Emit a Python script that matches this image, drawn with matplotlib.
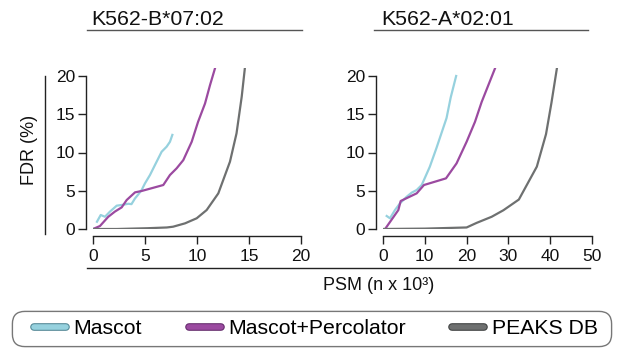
import matplotlib
matplotlib.use("Agg")
import matplotlib.pyplot as plt
from matplotlib.lines import Line2D
from matplotlib.patches import FancyBboxPatch
import matplotlib.patheffects as pe

plt.rcParams['font.family'] = ['Liberation Sans', 'DejaVu Sans']

# ---- data (x in PSM x10^3, y in FDR %) ----
titles = ["K562-B*07:02", "K562-A*02:01"]
series_names = ["Mascot", "Mascot+Percolator", "PEAKS DB"]

b07_mascot_x = [0.38, 0.74, 1.15, 1.63, 2.28, 2.76, 3.4, 3.7, 4.04, 4.36, 4.68, 5.0, 5.48, 5.96, 6.6, 7.08, 7.4, 7.63]
b07_mascot_y = [0.95, 1.83, 1.6, 2.27, 3.05, 3.14, 3.3, 3.25, 4.0, 4.53, 5.1, 5.97, 7.06, 8.37, 10.1, 10.76, 11.4, 12.3]
b07_perc_x = [0, 0.67, 1.47, 2.1, 2.76, 3.24, 4.04, 4.68, 6.76, 7.4, 8.04, 8.68, 9.49, 10.1, 10.77, 11.25, 11.73]
b07_perc_y = [0, 0.39, 1.6, 2.27, 2.83, 3.79, 4.79, 4.97, 5.75, 7.06, 7.93, 9.0, 11.4, 14.0, 16.4, 18.8, 21.0]
b07_peaks_x = [0, 2.3, 5.2, 7.1, 7.7, 8.85, 9.97, 10.93, 12.05, 13.17, 13.8, 14.3, 14.6]
b07_peaks_y = [0, 0.0, 0.1, 0.2, 0.3, 0.74, 1.4, 2.48, 4.66, 8.8, 12.5, 17.3, 21.0]

a02_mascot_x = [0.88, 1.67, 2.87, 4.07, 5.67, 6.86, 8.06, 9.26, 11.2, 12.8, 15.2, 16.2, 17.5]
a02_mascot_y = [1.7, 1.4, 2.48, 3.36, 4.22, 4.75, 5.1, 5.75, 8.14, 10.6, 14.5, 17.2, 20.0]
a02_perc_x = [0.5, 3.67, 4.23, 8.06, 9.8, 15.07, 17.6, 20.0, 22.0, 23.6, 25.2, 26.8]
a02_perc_y = [0, 2.48, 3.66, 4.66, 5.75, 6.62, 8.58, 11.4, 14.0, 16.6, 18.8, 21.0]
a02_peaks_x = [0, 10, 20.0, 22.4, 26.0, 28.8, 32.5, 36.8, 39.0, 40.3, 41.6]
a02_peaks_y = [0, 0.05, 0.2, 0.8, 1.6, 2.45, 3.85, 8.15, 12.4, 16.5, 21.0]

y_ticks = [0, 5, 10, 15, 20]
b07_x_ticks = [0, 5, 10, 15, 20]
a02_x_ticks = [0, 10, 20, 30, 40, 50]

colors = ["#96d1de", "#9b4aa0", "#6e7070"]
edge_colors = ["#4f8593", "#62286a", "#3c3e3e"]

W, H = 622, 352
fig = plt.figure(figsize=(W / 100, H / 100), dpi=100)

def fx(px):
    return px / W

def fy(py):
    return 1 - py / H

ymax = 21.0
y0_px, y20_px = 229, 76
ppu = (y0_px - y20_px) / 20.0
ytop_px = y0_px - ymax * ppu

panels = [
    dict(left=93, right=301, xmax=20, xticks=b07_x_ticks,
         data=[(b07_mascot_x, b07_mascot_y), (b07_perc_x, b07_perc_y), (b07_peaks_x, b07_peaks_y)]),
    dict(left=383, right=592, xmax=50, xticks=a02_x_ticks,
         data=[(a02_mascot_x, a02_mascot_y), (a02_perc_x, a02_perc_y), (a02_peaks_x, a02_peaks_y)]),
]

for p in panels:
    ax = fig.add_axes([fx(p['left']), fy(y0_px), fx(p['right']) - fx(p['left']), fy(ytop_px) - fy(y0_px)])
    for (xs, ys), c in zip(p['data'], colors):
        ax.plot(xs, ys, color=c, lw=1.6, solid_joinstyle='round')
    ax.set_xlim(0, p['xmax'])
    ax.set_ylim(0, ymax)
    for s in ['top', 'right']:
        ax.spines[s].set_visible(False)
    ax.spines['left'].set_position(('outward', 5.0))
    ax.spines['bottom'].set_position(('outward', 5.3))
    ax.spines['left'].set_bounds(0, 20)
    ax.spines['bottom'].set_bounds(0, p['xmax'])
    for s in ['left', 'bottom']:
        ax.spines[s].set_linewidth(1.0)
        ax.spines[s].set_color('#222222')
    ax.set_xticks(p['xticks'])
    ax.set_yticks(y_ticks)
    ax.tick_params(axis='both', direction='out', length=5.5, width=1.0, color='#222222',
                   labelsize=12.5, labelcolor='#111111')
    ax.tick_params(axis='y', pad=2.5)
    ax.tick_params(axis='x', pad=3.5)
    ax.patch.set_alpha(0)

# titles and decorative rules
line_kw = dict(transform=fig.transFigure, color='#555555', lw=1.0)
fig.add_artist(Line2D([fx(87), fx(302)], [fy(30), fy(30)], **line_kw))
fig.add_artist(Line2D([fx(374), fx(588)], [fy(30), fy(30)], **line_kw))
fig.text(fx(91), fy(25), titles[0], fontsize=15.3, ha='left', va='baseline', color='#111111')
fig.text(fx(381), fy(25), titles[1], fontsize=15.3, ha='left', va='baseline', color='#111111')

fig.add_artist(Line2D([fx(87), fx(590)], [fy(268), fy(268)], transform=fig.transFigure, color='#222222', lw=1.0))
fig.text(fx(379), fy(286), "PSM (n x 10³)", fontsize=13, ha='center', va='center', color='#111111')

fig.add_artist(Line2D([fx(45), fx(45)], [fy(76), fy(234)], transform=fig.transFigure, color='#222222', lw=1.0))
fig.text(fx(29), fy(150), "FDR (%)", fontsize=13, rotation=90, ha='center', va='center', color='#111111')

# legend frame
frame = FancyBboxPatch((fx(18), fy(341)), fx(588), fy(317) - fy(341),
                       boxstyle="round,pad=0.0,rounding_size=0.03", mutation_aspect=622 / 352,
                       transform=fig.transFigure, facecolor='white', edgecolor='#777777', lw=1.0)
frame.set_boxstyle("round", pad=0.009, rounding_size=0.02)
fig.add_artist(frame)

handles = []
for c, ec in zip(colors, edge_colors):
    h = Line2D([], [], color=c, lw=4.0, solid_capstyle='round',
               path_effects=[pe.Stroke(linewidth=5.5, foreground=ec, capstyle='round'), pe.Normal()])
    handles.append(h)
leg = fig.legend(handles, series_names, loc='center', ncol=3,
                 bbox_to_anchor=(fx(316), fy(329)), fontsize=15.3, frameon=False,
                 handlelength=1.5, handletextpad=0.35, columnspacing=2.2,
                 borderpad=0.25, borderaxespad=0)

fig.savefig("out.png", dpi=100)
